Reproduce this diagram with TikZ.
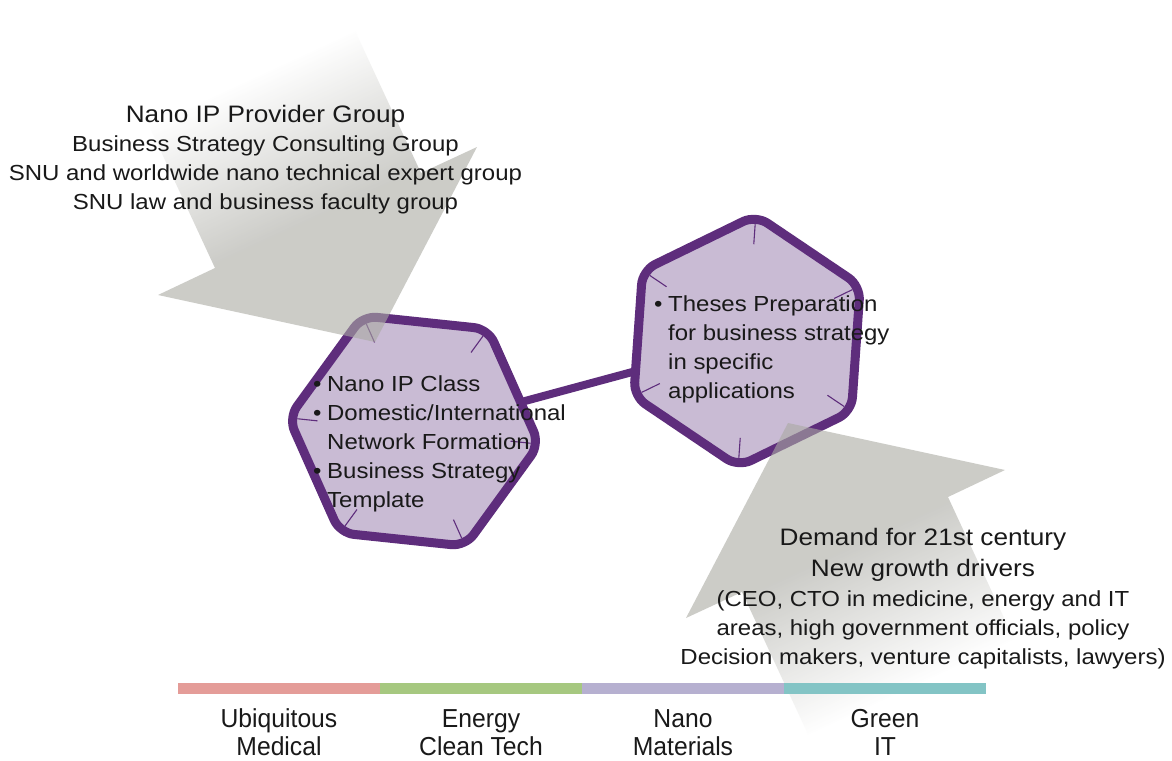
\documentclass[tikz,border=0pt]{standalone}
\usepackage{fontspec}
\setmainfont{Liberation Sans}[FakeStretch=1.1]
\newfontfamily\labelfont{Liberation Sans}[FakeStretch=0.95]
\usetikzlibrary{shapes.geometric, calc}

\definecolor{hexline}{RGB}{94,45,124}
\definecolor{hexfill}{RGB}{201,187,212}
\definecolor{arrowgray}{RGB}{170,170,163}
\definecolor{medicalbar}{RGB}{228,156,152}
\definecolor{energybar}{RGB}{166,200,128}
\definecolor{nanobar}{RGB}{182,176,208}
\definecolor{greenbar}{RGB}{131,196,197}
\definecolor{inktext}{RGB}{25,25,25}

\pgfdeclareverticalshading{arrowfade}{100bp}{color(0bp)=(arrowgray); color(44.5bp)=(arrowgray); color(55.5bp)=(white); color(100bp)=(white)}

\newcommand{\bodysize}{\fontsize{21.8pt}{29pt}\selectfont}
\newcommand{\headsize}{\fontsize{23.8pt}{31pt}\selectfont}
\newcommand{\dotitem}{\makebox[14pt][l]{\textbullet}}
\newcommand{\dotskip}{\hspace*{14pt}}

\begin{document}
\begin{tikzpicture}[x=1pt, y=-1pt,
        hexbox/.style={regular polygon, regular polygon sides=6, minimum size=252pt, inner sep=0pt, outer sep=0pt, draw=hexline, fill=hexfill, line width=9pt, rounded corners=14pt},
        hextick/.style={hexline, line width=1.1pt},
        link/.style={hexline, line width=8pt},
        hextext/.style={inner sep=0pt, align=left, text=inktext, font=\bodysize, anchor=base west},
        infotext/.style={inner sep=0pt, align=center, text=inktext, anchor=base},
        fieldlabel/.style={inner sep=0pt, align=center, text=inktext, font=\labelfont\fontsize{26pt}{28pt}\selectfont, anchor=base}]
                \useasboundingbox (0,0) rectangle (1172,760);
                \clip (0,0) rectangle (1172,760);
                \fill[white] (0,0) rectangle (1172,760);

                % Nodes
                \node[hexbox, shape border rotate=-6] (ipclass) at (414,431) {};
                \node[hexbox, shape border rotate=26] (theses) at (747,341) {};

                % Edges
                \draw[link] (ipclass) -- (theses);
                \foreach \hex in {ipclass, theses}
                  \foreach \i in {1,...,6}
                    \draw[hextick] ($(\hex.center)!0.93!(\hex.corner \i)$) -- ($(\hex.center)!0.77!(\hex.corner \i)$);

                % Arrows
                \begin{scope}[opacity=0.6]
                  \begin{scope}
                    \clip (274,-144) -- (421,173) -- (477,147) -- (375,342) -- (158,295) -- (215,268) -- (68,-49) -- cycle;
                    \shade[shading=arrowfade, shading angle=24.8] (-65.3,-203) rectangle (634.7,497);
                  \end{scope}
                  \begin{scope}
                    \clip (889,909) -- (742,592) -- (686,618) -- (788,423) -- (1005,470) -- (948,497) -- (1095,814) -- cycle;
                    \shade[shading=arrowfade, shading angle=-155.2] (528.3,268) rectangle (1228.3,968);
                  \end{scope}
                \end{scope}

                % Fields
                \foreach \barcolor/\xa in {medicalbar/178, energybar/380, nanobar/582, greenbar/784}
                  \fill[\barcolor] (\xa,683) rectangle ++(202,11);
                \foreach \first/\second [count=\i] in {Ubiquitous/Medical, Energy/Clean Tech, Nano/Materials, Green/IT}
                  \node[fieldlabel] (field\i) at (77+202*\i,755) {\first\\\second};

                % Texts
                \node[infotext, font=\headsize] (providerhead) at (265.5,122) {Nano IP Provider Group};
                \node[infotext, font=\bodysize] (providerbody) at (265.5,209) {Business Strategy Consulting Group\\SNU and worldwide nano technical expert group\\SNU law and business faculty group};
                \node[infotext, font=\headsize] (demandhead) at (923,576) {Demand for 21st century\\New growth drivers};
                \node[infotext, font=\bodysize] (demandbody) at (923,664) {(CEO, CTO in medicine, energy and IT\\areas, high government officials, policy\\Decision makers, venture capitalists, lawyers)};
                \node[hextext] (ipclasstext) at (313,507) {\dotitem Nano IP Class\\\dotitem Domestic/International\\\dotskip Network Formation\\\dotitem Business Strategy\\\dotskip Template};
                \node[hextext] (thesestext) at (654,398) {\dotitem Theses Preparation\\\dotskip for business strategy\\\dotskip in specific\\\dotskip applications};
\end{tikzpicture}
\end{document}
